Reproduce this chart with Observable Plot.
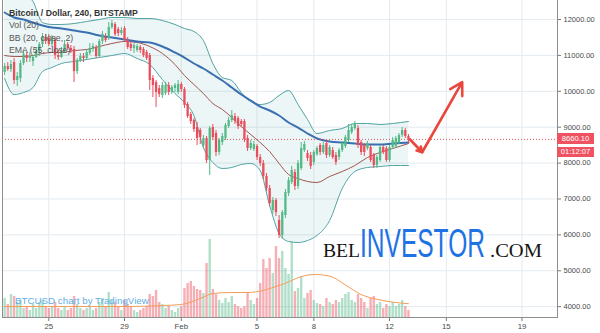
<!DOCTYPE html>
<html><head><meta charset="utf-8">
<script src="https://cdn.jsdelivr.net/npm/d3@7"></script>
<script src="https://cdn.jsdelivr.net/npm/@observablehq/plot@0.6"></script>
<style>
html,body{margin:0;padding:0;background:#fff;}
#wrap{position:relative;width:600px;height:333px;overflow:hidden;font-family:"Liberation Sans",Arial,sans-serif;}
#wrap > svg, #wrap > div{position:absolute;}
.leg{left:9px;font-size:8.7px;line-height:10px;color:#555;white-space:nowrap;}
.tag{left:557px;width:37px;background:#ef5361;color:#fff;font-size:7.6px;text-align:center;}
</style></head><body><div id="wrap"></div>
<script>
// ---- data (BTC/USD, Bitstamp, 4h candles from 2018-01-22 16:00 UTC) ----
const firstCandle = "2018-01-22T16:00:00Z";
const open = [10523,10690,10607,10802,10300,10356,10774,10997,10913,10830,10941,11108,11303,11498,
11471,11303,11415,10997,10941,11108,11303,11192,11164,10551,10858,10969,10913,11053,
11164,11220,10969,11387,11498,11471,11777,11861,11721,11610,11749,11415,11303,11192,11136,11220,11164,11081,
10997,10356,10244,10077,9882,9938,10161,9966,10077,9966,10189,
10050,9632,9353,9186,8991,8907,8490,8685,8072,8991,8824,8295,8573,8685,9019,9186,9297,9242,9158,9158,8685,8406,8378,
8462,8155,7988,7626,7292,6679,6957,6400,5982,6539,7152,7459,7737,7347,7849,8350,8267,8211,8016,8239,
8490,8295,8545,8211,8350,8211,8155,8350,8462,8629,8852,8963,8963,8573,8490,8406,8434,8211,7932,8072,8434,8406,8072,8434,8462,8573,8768,8907,8740];
const close = [10690,10607,10746,10300,10412,10774,11025,10913,10969,10941,11108,11303,11498,11387,
11303,11471,10997,10941,11108,11303,11192,11136,10551,10858,10969,10913,11081,11192,
11248,10969,11387,11582,11415,11777,11888,11582,11610,11693,11415,11220,11192,11276,11248,11136,10997,10913,
10300,10161,9966,9910,10161,10161,9966,10105,10161,10189,10050,
9604,9297,9158,8935,8685,8712,8685,8072,8963,8712,8295,8629,8740,9047,9186,9325,9158,9019,9075,8657,8406,8545,8517,
8155,7988,7626,7292,6874,6957,6622,5982,6622,7180,7514,7793,7347,7988,8406,8517,8127,7905,8295,8406,
8295,8490,8211,8434,8155,8016,8350,8545,8712,8907,8991,9103,8490,8295,8295,8545,8072,7932,8155,8434,8295,8072,8434,8629,8685,8768,8907,8740,8660.1];
const high = [10774,10802,10858,10913,10523,10858,11108,11081,11081,10997,11192,11359,11610,11582,
11582,11554,11498,11136,11220,11415,11359,11276,11248,10913,11053,11053,11164,11331,
11331,11276,11443,11666,11610,11916,11972,11916,11777,11777,11805,11498,11359,11331,11303,11276,11220,11136,
11053,10440,10300,10161,10244,10244,10244,10161,10216,10300,10244,
10105,9688,9409,9242,9130,8963,8768,8740,9019,9075,8907,8685,8824,9103,9270,9465,9381,9297,9214,9214,8768,8629,8601,
8517,8239,8072,7710,7375,7041,7013,6539,6679,7264,7598,7905,7821,8072,8573,8601,8350,8295,8350,8462,
8545,8573,8629,8490,8434,8295,8406,8601,8768,9075,9075,9158,9047,8629,8545,8601,8490,8267,8211,8490,8490,8462,8490,8712,8740,8824,8991,8963,8796];
const low = [10440,10551,10523,10189,10133,10244,10718,10802,10802,10690,10913,10969,11220,11303,
11248,11220,10886,10858,10913,11053,11136,11053,10244,10467,10802,10802,10858,10997,
11081,10913,10941,11303,11359,11415,11721,11526,11526,11554,11359,11164,11108,11053,11081,11053,10941,10858,
10022,9827,9548,9827,9799,9882,9882,9910,9966,9910,9966,
9520,9242,9075,8852,8490,8517,8406,7988,7654,8629,8183,8211,8490,8629,8963,9130,9075,8935,8991,8573,8322,8350,8322,
8072,7905,7542,7208,6790,6567,6511,5899,5871,6455,7069,7403,7236,7264,7793,8295,8044,7821,7932,8183,
8211,8239,8127,8155,8100,7932,8072,8295,8406,8573,8796,8907,8406,8211,8183,8350,8016,7849,7849,8016,8239,8016,8016,8378,8406,8517,8712,8685,8517];
const volume = [2500,1750,3000,2750,2000,2250,1250,1500,1000,1750,1250,2000,2250,1500,
1250,1500,2000,1250,1000,1500,1000,1250,2750,1750,1250,1000,1250,1500,
1000,1250,2000,2500,1500,3250,2250,2000,1500,1000,2250,1750,1500,1000,750,1000,1250,1500,
3000,2750,3500,2000,1750,1250,1500,1000,750,1250,1500,
3750,4375,4625,4000,3625,3500,3125,6875,9875,3625,3000,2250,1875,2500,2000,2750,1750,1500,1250,1500,3250,2250,1750,
2500,4375,7375,6250,7500,5625,9000,7500,8375,6250,5500,9625,3375,3750,5250,2500,3125,3500,2250,1875,
1750,1500,2500,2000,1750,2250,2000,2500,3000,3250,2250,2000,3000,2500,2000,1250,2500,2750,1750,2000,1250,1750,1500,2000,1500,1750,2250,1500,1000];

// indicator lines, read at selected candle indexes
const bandIdx = [0,3,6,9,12,15,18,22,26,30,34,38,42,46,50,54,57,60,63,66,69,72,75,78,81,84,87,90,93,96,99,103,107,111,115,119,123,128];
const bbUpper = [13086,12891,12724,12501,11916,11861,11861,11888,11944,12000,12056,12056,12028,12028,11972,11861,11749,11666,11415,10774,10384,10300,9966,9715,9632,9688,9882,10022,9632,9214,8824,8907,8963,9103,9103,9075,9103,9158];
const bbLower = [10356,9910,9966,10105,10551,10662,10774,10830,10886,10941,10997,11053,10913,10746,10328,9938,9688,9325,8434,8016,7849,7877,7960,7988,7793,6818,6039,5815,5787,5843,5982,6400,7292,7765,7877,7905,7932,7932];
const bbBasis = [10997,10969,10969,10997,11053,11081,11081,11136,11164,11248,11331,11387,11359,11248,11053,10746,10440,10189,9938,9660,9493,9270,9019,8796,8573,8322,7988,7682,7570,7487,7459,7626,7765,7932,8155,8295,8406,8545];
const ema55 = [12195,12056,12000,11916,11833,11777,11749,11693,11638,11554,11498,11443,11387,11359,11248,11081,10941,10774,10635,10467,10300,10105,9910,9743,9576,9465,9325,9130,8991,8824,8685,8601,8573,8545,8517,8517,8545,8573];
const volMaIdx = [0,20,40,50,56,62,66,72,77,82,86,89,93,98,103,108,113,118,123,128];
const volMa = [1500,1500,1500,1625,1750,2500,3125,3250,3250,3500,4000,4400,5100,5500,5300,4200,3000,2400,2050,1850];

const lastPrice = 8660.1;
const countdown = "01:12:07";
const priceTicks = [4000,5000,6000,7000,8000,9000,10000,11000,12000];
const dateTicks = ["2018-01-25","2018-01-29","2018-02-01","2018-02-05","2018-02-08","2018-02-12","2018-02-15","2018-02-19"];
const dateLabels = ["25","29","Feb","5","8","12","15","19"];
const arrowTimes = ["2018-02-13T02:00:00Z","2018-02-13T17:24:00Z","2018-02-15T20:07:00Z"];
const arrowPrices = [8657, 8302, 10253];
const legend = ["Bitcoin / Dollar, 240, BITSTAMP","Vol (20)","BB (20, close, 2)","EMA (55, close)"];

// ---- build ----
const H4 = 4*3600*1000;
const t0 = +new Date(firstCandle);
const tAt = i => new Date(t0 + i*H4);
const candles = open.map((o,i)=>({t:tAt(i),o,c:close[i],h:high[i],l:low[i],v:volume[i]}));
const ups = candles.filter(d=>d.c>=d.o), downs = candles.filter(d=>d.c<d.o);
const bands = bandIdx.map((k,j)=>({t:tAt(k),up:bbUpper[j],lo:bbLower[j],mid:bbBasis[j],ema:ema55[j]}));
const vma = volMaIdx.map((k,j)=>({t:tAt(k),v:volMa[j]}));
const tickDates = dateTicks.map(d=>new Date(d));
const labelOf = new Map(tickDates.map((d,i)=>[+d,dateLabels[i]]));
const arrows = [0,1].map(i=>({t1:new Date(arrowTimes[i]),p1:arrowPrices[i],t2:new Date(arrowTimes[i+1]),p2:arrowPrices[i+1]}));

const UP="#53b987", DN="#eb4d5c";
const W=600,H=333, M={marginLeft:2,marginRight:43,marginTop:0,marginBottom:15};
const xDom=[new Date("2018-01-22T13:18:00Z"), new Date("2018-02-20T20:57:00Z")];
const yDom=[3670.4,12529.3];
const font = "Liberation Sans, Arial, sans-serif";

const pricePlot = Plot.plot({
  width:W,height:H,...M,
  style:{background:"transparent",fontFamily:font,color:"#4a4a4a",overflow:"visible"},
  x:{type:"utc",domain:xDom},
  y:{domain:yDom},
  marks:[
    Plot.gridY(priceTicks,{stroke:"#e3eaf0",strokeOpacity:1}),
    Plot.gridX(tickDates,{stroke:"#e3eaf0",strokeOpacity:1}),
    Plot.areaY(bands,{x:"t",y1:"lo",y2:"up",fill:"#198787",fillOpacity:0.08,curve:"monotone-x",clip:true}),
    Plot.line(bands,{x:"t",y:"up",stroke:"#4fa3a2",strokeWidth:1,curve:"monotone-x",clip:true}),
    Plot.line(bands,{x:"t",y:"lo",stroke:"#4fa3a2",strokeWidth:1,curve:"monotone-x",clip:true}),
    Plot.line(bands,{x:"t",y:"mid",stroke:"#a0554e",strokeWidth:1,curve:"monotone-x",clip:true}),
    Plot.line(bands,{x:"t",y:"ema",stroke:"#3a70b2",strokeWidth:2,curve:"monotone-x",clip:true}),
    Plot.ruleY([lastPrice],{stroke:"#e0505b",strokeWidth:1,strokeDasharray:"1,2"}),
    Plot.ruleX(ups,{x:"t",y1:"l",y2:"h",stroke:UP,strokeWidth:1,clip:true}),
    Plot.ruleX(downs,{x:"t",y1:"l",y2:"h",stroke:DN,strokeWidth:1,clip:true}),
    Plot.ruleX(ups,{x:"t",y1:"o",y2:"c",stroke:UP,strokeWidth:2.3,clip:true}),
    Plot.ruleX(downs,{x:"t",y1:"o",y2:"c",stroke:DN,strokeWidth:2.3,clip:true}),
    Plot.arrow(arrows,{x1:"t1",y1:"p1",x2:"t2",y2:"p2",stroke:"#e8473d",strokeWidth:2.6,headLength:8}),
    Plot.axisY({anchor:"right",ticks:priceTicks,tickFormat:d=>d.toFixed(2),tickSize:3,tickPadding:3,fontSize:7.5,label:null,stroke:"#777"}),
    Plot.axisX({ticks:tickDates,tickFormat:d=>labelOf.get(+d),tickSize:3,tickPadding:2,fontSize:7.8,label:null,stroke:"#777"})
  ]
});

const volPlot = Plot.plot({
  width:W,height:H,...M,
  style:{background:"transparent",overflow:"visible"},
  x:{type:"utc",domain:xDom,axis:null},
  y:{domain:[0,10000],range:[318,238],axis:null},
  marks:[
    Plot.ruleX(ups,{x:"t",y1:0,y2:"v",stroke:UP,strokeOpacity:0.45,strokeWidth:2.4}),
    Plot.ruleX(downs,{x:"t",y1:0,y2:"v",stroke:DN,strokeOpacity:0.45,strokeWidth:2.4}),
    Plot.line(vma,{x:"t",y:"v",stroke:"#f59d57",strokeWidth:1,curve:"monotone-x"})
  ]
});

const wrap = document.getElementById("wrap");
pricePlot.style.left="0px"; pricePlot.style.top="0px"; pricePlot.style.position="absolute";
volPlot.style.left="0px"; volPlot.style.top="0px"; volPlot.style.position="absolute";
wrap.appendChild(pricePlot);
wrap.appendChild(volPlot);

// frame borders
const fr = document.createElement("div");
fr.style.cssText="left:2px;top:-1px;width:554px;height:318px;border-left:1px solid #8e8e8e;border-right:1px solid #8e8e8e;border-bottom:1px solid #8e8e8e;";
wrap.appendChild(fr);

// legend
legend.forEach((s,i)=>{
  const d=document.createElement("div");
  d.className="leg"; d.textContent=s;
  d.style.top=(8+i*12.3)+"px";
  if(i===0){d.style.fontWeight="bold";d.style.color="#333";}
  wrap.appendChild(d);
});

// price tags
const yS = pricePlot.scale("y");
const yp = yS.apply(lastPrice);
const tag1=document.createElement("div"); tag1.className="tag";
tag1.style.top=(yp-5.5)+"px"; tag1.style.height="11px"; tag1.style.lineHeight="11px";
tag1.textContent=lastPrice.toFixed(2); wrap.appendChild(tag1);
const tag2=document.createElement("div"); tag2.className="tag";
tag2.style.top=(yp+8.5)+"px"; tag2.style.height="10px"; tag2.style.lineHeight="10px";
tag2.textContent=countdown; wrap.appendChild(tag2);

// source + watermark
const ns="http://www.w3.org/2000/svg";
const ov=document.createElementNS(ns,"svg");
ov.setAttribute("width",W); ov.setAttribute("height",H);
ov.style.cssText="position:absolute;left:0;top:0;";
wrap.appendChild(ov);
// fit a text into a given width by horizontal scaling
function txt(s,x,y,size,family,fill,len){
  const t=document.createElementNS(ns,"text");
  t.setAttribute("x",0);t.setAttribute("y",0);t.setAttribute("font-size",size);
  t.setAttribute("font-family",family);t.setAttribute("fill",fill);
  t.textContent=s; ov.appendChild(t);
  const w=t.getComputedTextLength()||len;
  t.setAttribute("transform",`translate(${x},${y}) scale(${len/w},1)`);
}
txt("BTCUSD chart by TradingView",15,304,9.5,font,"#5fb0e6",134);
txt("BEL",323,257,19,"Liberation Serif, serif","#151515",37);
txt("INVESTOR",360,257,40,font,"#1d72e4",125);
txt(".COM",490,257,18,"Liberation Serif, serif","#151515",52);
</script></body></html>
